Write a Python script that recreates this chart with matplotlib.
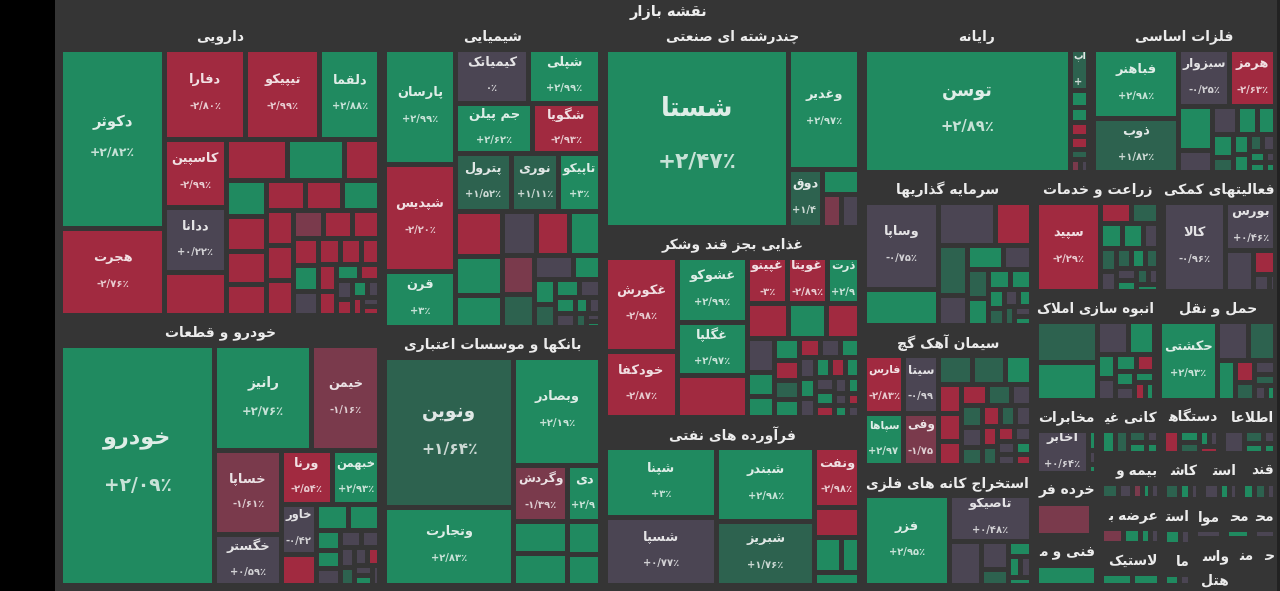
import matplotlib
matplotlib.use("Agg")
import matplotlib.pyplot as plt
from matplotlib.colors import to_rgb
from matplotlib.patches import Rectangle

plt.rcParams["font.family"] = ["DejaVu Sans"]

# ---------------- data ----------------
# tiles: (symbol, daily change %, relative size inside the sector)
darooei = [("دکوثر", 2.82, 17990), ("هجرت", -2.76, 8760), ("دفارا", -2.80, 7000), ("تیپیکو", -2.99, 6420),
           ("دلقما", 2.88, 5190), ("کاسپین", -2.99, 4080), ("ددانا", 0.22, 3810), ("", -2.5, 2570),
           ("", -2.5, 2440), ("", 2.5, 2240), ("", -2.5, 1400), ("", 2.5, 1400), ("", -2.5, 1360),
           ("", -2.5, 1280), ("", -2.5, 1220), ("", -2.5, 1150), ("", -2.5, 1100), ("", 2.5, 1100),
           ("", -2.5, 900), ("", -2.5, 900), ("", -2.5, 900), ("", -1.2, 800), ("", -2.5, 760),
           ("", -2.5, 720), ("", -2.5, 680), ("", 2.5, 640), ("", 0.3, 600), ("", -2.5, 560),
           ("", -2.5, 520), ("", -2.5, 480), ("", -2.5, 440), ("", -2.5, 400), ("", 2.5, 360),
           ("", -2.5, 320), ("", 0.3, 290), ("", -2.5, 260), ("", 2.5, 230), ("", 0.3, 200),
           ("", -2.5, 180), ("", 0.3, 160), ("", -2.5, 140)]
khodro = [("خودرو", 2.09, 35750), ("رانیز", 2.76, 9880), ("خیمن", -1.16, 6930), ("خساپا", -1.61, 5450),
          ("خگستر", 0.59, 3300), ("ورنا", -2.54, 2620), ("خبهمن", 2.93, 2490), ("خاور", -0.42, 1650),
          ("", -2.5, 1050), ("", 2.5, 810), ("", 2.5, 800), ("", 2.5, 450), ("", 2.5, 420),
          ("", 0.3, 380), ("", 0.3, 350), ("", 0.3, 300), ("", 0.3, 280), ("", 1.5, 250),
          ("", 0.3, 220), ("", -2.5, 200), ("", 0.3, 180), ("", 2.5, 160), ("", 0.3, 150)]
shimi = [("پارسان", 2.99, 7775), ("شپدیس", -2.20, 7160), ("قرن", 3, 3780), ("کیمیاتک", 0, 3760),
         ("شپلی", 2.99, 3720), ("جم پیلن", 2.62, 3700), ("شگویا", -2.93, 3200), ("پترول", 1.52, 3080),
         ("نوری", 1.11, 2630), ("تاپیکو", 3, 2290), ("", -2.5, 2045), ("", 2.5, 1740), ("", 2.5, 1460),
         ("", 0.3, 1410), ("", -2.5, 1410), ("", 2.5, 1280), ("", -1.2, 1200), ("", 1.5, 1000),
         ("", 0.3, 900), ("", 2.5, 600), ("", 2.5, 500), ("", 1.5, 450), ("", 2.5, 400), ("", 0.3, 350),
         ("", 2.5, 300), ("", 0.3, 250), ("", 2.5, 200), ("", 0.3, 180), ("", 1.5, 150), ("", 0.3, 100),
         ("", 2.5, 80)]
banks = [("ونوین", 1.64, 18650), ("وتجارت", 2.83, 9700), ("وبصادر", 2.19, 8950), ("وگردش", -1.39, 2890),
         ("دی", 2.99, 1730), ("", 2.5, 1680), ("", 2.5, 1650), ("", 2.5, 1050), ("", 2.5, 950)]
chand = [("شستا", 2.47, 31050), ("وغدیر", 2.97, 8100), ("دوق", 1.44, 1890), ("", 2.5, 860),
         ("", -1.5, 590), ("", 0.3, 580)]
ghaza = [("غکورش", -2.98, 6520), ("خودکفا", -2.87, 4550), ("غشوکو", 2.99, 4300), ("غگلپا", 2.97, 3550),
         ("", -2.5, 2800), ("غپینو", -3, 1750), ("غویتا", -2.89, 1730), ("ذرت", 2.97, 1400),
         ("", -2.5, 1390), ("", 2.5, 1250), ("", -2.5, 1100), ("", 0.3, 900), ("", 2.5, 620),
         ("", 2.5, 560), ("", 2.5, 520), ("", -2.5, 480), ("", 1.5, 450), ("", 2.5, 420), ("", -2.5, 400),
         ("", 0.3, 380), ("", 2.5, 350), ("", 0.3, 320), ("", 2.5, 300), ("", 0.3, 300), ("", 2.5, 280),
         ("", -2.5, 280), ("", 2.5, 260), ("", 0.3, 260), ("", 2.5, 240), ("", -2.5, 220), ("", 0.3, 200),
         ("", 2.5, 180), ("", 0.3, 160), ("", 2.5, 150), ("", -2.5, 140), ("", 0.3, 130)]
naft = [("شپنا", 3, 7410), ("شسپا", 0.77, 7300), ("شبندر", 2.98, 6880), ("شبریز", 1.76, 6020),
        ("ونفت", -2.98, 2560), ("", -2.5, 1290), ("", 2.5, 890), ("", 2.5, 570), ("", 2.5, 570)]
rayaneh = [("توسن", 2.89, 24130), ("آپ", 1.35, 700), ("", 2.5, 280), ("", 2.5, 260), ("", -2.5, 240),
           ("", -2.5, 220), ("", 1.5, 160), ("", -1.5, 120), ("", 0.3, 100)]
felezat = [("فباهنر", 2.98, 5550), ("ذوب", 1.82, 4300), ("سبزوار", -0.25, 2720), ("هرمز", -2.63, 2470),
           ("", 2.5, 1400), ("", 0.3, 700), ("", 0.3, 650), ("", 2.5, 520), ("", 2.5, 480), ("", 2.5, 450),
           ("", 1.5, 300), ("", 2.5, 280), ("", 2.5, 260), ("", 1.5, 220), ("", 0.3, 200), ("", 2.5, 180),
           ("", 2.5, 150), ("", 0.3, 100), ("", 2.5, 90)]
sarmaye = [("وساپا", -0.75, 6040), ("", 2.5, 2470), ("", 0.3, 2300), ("", -2.5, 1450), ("", 1.5, 1330),
           ("", 0.3, 800), ("", 2.5, 780), ("", 0.3, 620), ("", 1.5, 560), ("", 2.5, 520), ("", 2.5, 400),
           ("", 2.5, 380), ("", 2.5, 300), ("", 1.5, 250), ("", 0.3, 220), ("", 2.5, 200), ("", 1.5, 180),
           ("", 0.3, 160), ("", 2.5, 140)]
siman = [("فارس", -2.83, 2160), ("سپاها", 2.97, 1925), ("سیتا", -0.99, 1900), ("وفی", -1.75, 1700),
         ("", 1.5, 910), ("", 1.5, 900), ("", 2.5, 700), ("", -2.5, 620), ("", -2.5, 600), ("", -2.5, 520),
         ("", -2.5, 500), ("", 1.5, 480), ("", 0.3, 400), ("", 1.5, 400), ("", 0.3, 380), ("", 1.5, 350),
         ("", -2.5, 350), ("", 1.5, 300), ("", 0.3, 300), ("", -2.5, 280), ("", 1.5, 260), ("", -2.5, 240),
         ("", 0.3, 240), ("", 0.3, 220), ("", 0.3, 200), ("", 2.5, 180), ("", -2.5, 160)]
estekhraj = [("فزر", 2.95, 7260), ("تاصیکو", 0.48, 3540), ("", 0.3, 1350), ("", 0.3, 720), ("", 1.5, 420),
             ("", 2.5, 330), ("", 2.5, 250), ("", 0.3, 220), ("", 2.5, 170)]
zeraat = [("سپید", -2.29, 5375), ("", -2.5, 615), ("", 1.5, 545), ("", 2.5, 520), ("", 2.5, 480),
          ("", 0.3, 360), ("", 1.5, 350), ("", 0.3, 300), ("", 1.5, 280), ("", 2.5, 260), ("", 1.5, 240),
          ("", 0.3, 220), ("", 2.5, 200), ("", 1.5, 180), ("", 0.3, 160), ("", 2.5, 150)]
komaki = [("کالا", -0.96, 5120), ("بورس", 0.46, 2210), ("", 0.3, 1045), ("", -2.5, 480), ("", 0.3, 250),
          ("", 0.3, 100)]
anbooh = [("", 1.5, 2260), ("", 2.5, 2140), ("", 0.3, 915), ("", 2.5, 780), ("", 2.5, 400), ("", 0.3, 350),
          ("", 2.5, 330), ("", -2.5, 300), ("", 2.5, 260), ("", 0.3, 230), ("", 2.5, 200), ("", -2.5, 170),
          ("", 2.5, 150)]
haml = [("حکشتی", 2.93, 3960), ("", 0.3, 1070), ("", 1.5, 940), ("", 2.5, 650), ("", -2.5, 350),
        ("", 1.5, 300), ("", 0.3, 250), ("", 1.5, 200), ("", 0.3, 150), ("", 2.5, 115)]
mokhaberat = [("اخابر", 0.64, 2230), ("", 2.5, 170), ("", 0.3, 120), ("", 2.5, 80)]
khordeh = [("", -1.5, 1750), ("", 0.3, 170)]
fani = [("", 2.5, 1080)]
kani = [("", 2.5, 330), ("", 1.5, 300), ("", 1.5, 250), ("", 2.5, 200), ("", 0.3, 150), ("", 2.5, 120)]
dastgah = [("", -2.5, 380), ("", 2.5, 250), ("", 1.5, 220), ("", 2.5, 180), ("", 0.3, 150), ("", -2.5, 130)]
etelaat = [("", 0.3, 400), ("", 1.5, 200), ("", 2.5, 150), ("", 0.3, 130), ("", 2.5, 100)]
bimeh = [("", 1.5, 250), ("", 0.3, 200), ("", -1.5, 150), ("", 2.5, 130), ("", 0.3, 125)]
arzeh = [("", -1.5, 330), ("", 2.5, 250), ("", 2.5, 150), ("", 0.3, 130)]
lastik = [("", 2.5, 300), ("", 2.5, 270)]
kashi = [("", 1.5, 200), ("", 2.5, 150), ("", 0.3, 115)]
naftgaz = [("", 0.3, 250), ("", 2.5, 150), ("", 0.3, 125)]
ghand = [("", 2.5, 200), ("", 1.5, 175), ("", 0.3, 150)]
zoghal = [("", 2.5, 150), ("", 0.3, 100)]
mashin = [("", 2.5, 140), ("", 0.3, 100)]
mavad = [("", 0.3, 130)]
felezi = [("", 2.5, 120)]
choobi = [("", 0.3, 100)]
vaseteh = [("", 2.5, 100)]
hotel = [("", 0.3, 90)]
mansoojat = [("", -1.5, 90)]
abi = [("", 2.5, 60)]
chap = [("", 0.3, 50)]

sector_names = ["دارویی", "خودرو و قطعات", "شیمیایی", "بانکها و موسسات اعتباری", "چندرشته ای صنعتی",
                "غذایی بجز قند وشکر", "فرآورده های نفتی", "رایانه", "فلزات اساسی", "سرمایه گذاریها",
                "سیمان آهک گچ", "استخراج کانه های فلزی", "زراعت و خدمات", "فعالیتهای کمکی",
                "انبوه سازی املاک", "حمل و نقل", "مخابرات", "خرده فروشی", "فنی و مهندسی", "کانی غیر فلزی",
                "دستگاههای برقی", "اطلاعات و ارتباطات", "بیمه و صندوق بازنشستگی", "عرضه برق، گاز، بخار",
                "لاستیک و پلاستیک", "کاشی و سرامیک", "استخراج نفت گاز", "قند و شکر", "استخراج زغال سنگ",
                "ماشین آلات و تجهیزات", "مواد و محصولات دارویی", "محصولات فلزی", "محصولات چوبی",
                "واسطه گریهای مالی", "هتل و رستوران", "منسوجات", "حمل و نقل آبی", "انتشار و چاپ"]
sector_sizes = [959, 875, 678, 568, 539, 492, 435, 350, 286, 263, 241, 206, 152, 139, 134, 131,
                48.1, 40.3, 33.0, 32.5, 32.0, 30.0, 28.5, 28.0, 26.0, 18.5, 18.0, 17.8, 14.0, 13.0,
                12.0, 11.0, 10.0, 9.5, 9.0, 8.0, 7.0, 6.0]
sector_tiles = [darooei, khodro, shimi, banks, chand, ghaza, naft, rayaneh, felezat, sarmaye, siman,
                estekhraj, zeraat, komaki, anbooh, haml, mokhaberat, khordeh, fani, kani, dastgah, etelaat,
                bimeh, arzeh, lastik, kashi, naftgaz, ghand, zoghal, mashin, mavad, felezi, choobi, vaseteh,
                hotel, mansoojat, abi, chap]

title = "نقشه بازار"

# ---------------- style ----------------
W, H = 1280, 591
BG = "#353535"
GREEN, GREEN_MID = "#208a60", "#2d624f"
GRAY = "#4b4553"
RED_MID, RED = "#7a3a4c", "#a12a40"
GAP = 5

# persian letters -> (isolated, final, initial, medial) presentation forms
FORMS = {
    "ا": (0xFE8D, 0xFE8E, None, None), "آ": (0xFE81, 0xFE82, None, None),
    "ب": (0xFE8F, 0xFE90, 0xFE91, 0xFE92), "پ": (0xFB56, 0xFB57, 0xFB58, 0xFB59),
    "ت": (0xFE95, 0xFE96, 0xFE97, 0xFE98), "ث": (0xFE99, 0xFE9A, 0xFE9B, 0xFE9C),
    "ج": (0xFE9D, 0xFE9E, 0xFE9F, 0xFEA0), "چ": (0xFB7A, 0xFB7B, 0xFB7C, 0xFB7D),
    "ح": (0xFEA1, 0xFEA2, 0xFEA3, 0xFEA4), "خ": (0xFEA5, 0xFEA6, 0xFEA7, 0xFEA8),
    "د": (0xFEA9, 0xFEAA, None, None), "ذ": (0xFEAB, 0xFEAC, None, None),
    "ر": (0xFEAD, 0xFEAE, None, None), "ز": (0xFEAF, 0xFEB0, None, None),
    "ژ": (0xFB8A, 0xFB8B, None, None),
    "س": (0xFEB1, 0xFEB2, 0xFEB3, 0xFEB4), "ش": (0xFEB5, 0xFEB6, 0xFEB7, 0xFEB8),
    "ص": (0xFEB9, 0xFEBA, 0xFEBB, 0xFEBC), "ض": (0xFEBD, 0xFEBE, 0xFEBF, 0xFEC0),
    "ط": (0xFEC1, 0xFEC2, 0xFEC3, 0xFEC4), "ظ": (0xFEC5, 0xFEC6, 0xFEC7, 0xFEC8),
    "ع": (0xFEC9, 0xFECA, 0xFECB, 0xFECC), "غ": (0xFECD, 0xFECE, 0xFECF, 0xFED0),
    "ف": (0xFED1, 0xFED2, 0xFED3, 0xFED4), "ق": (0xFED5, 0xFED6, 0xFED7, 0xFED8),
    "ک": (0xFB8E, 0xFB8F, 0xFB90, 0xFB91), "گ": (0xFB92, 0xFB93, 0xFB94, 0xFB95),
    "ل": (0xFEDD, 0xFEDE, 0xFEDF, 0xFEE0), "م": (0xFEE1, 0xFEE2, 0xFEE3, 0xFEE4),
    "ن": (0xFEE5, 0xFEE6, 0xFEE7, 0xFEE8), "و": (0xFEED, 0xFEEE, None, None),
    "ه": (0xFEE9, 0xFEEA, 0xFEEB, 0xFEEC), "ی": (0xFBFC, 0xFBFD, 0xFBFE, 0xFBFF),
}
LAM_ALEF = {"ا": (0xFEFB, 0xFEFC), "آ": (0xFEF5, 0xFEF6)}


def shape(text):
    # join letters and put them in visual (left to right) order
    out = []
    i = 0
    while i < len(text):
        ch = text[i]
        if ch not in FORMS:
            out.append(ch)
            i += 1
            continue
        prev = text[i - 1] if i > 0 else ""
        jp = prev in FORMS and FORMS[prev][2] is not None
        nxt = text[i + 1] if i + 1 < len(text) else ""
        if ch == "ل" and nxt in LAM_ALEF:
            out.append(chr(LAM_ALEF[nxt][1 if jp else 0]))
            i += 2
            continue
        jn = FORMS[ch][2] is not None and nxt in FORMS
        iso, fin, ini, med = FORMS[ch]
        code = med if (jp and jn) else fin if jp else ini if jn else iso
        out.append(chr(code))
        i += 1
    return "".join(reversed(out))


def fa_pct(v):
    body = str(abs(int(v))) if v == int(v) else f"{abs(v):.2f}"
    body = body.translate(str.maketrans("0123456789.", "۰۱۲۳۴۵۶۷۸۹/"))
    sign = "+" if v > 0 else "-" if v < 0 else ""
    return sign + body + "٪"


def tile_color(c):
    if c >= 2:
        return GREEN
    if c >= 1:
        return GREEN_MID
    if c > -1:
        return GRAY
    if c > -2:
        return RED_MID
    return RED


def lighten(c, a):
    r, g, b = to_rgb(c)
    return (r + (1 - r) * a, g + (1 - g) * a, b + (1 - b) * a)


def squarify(values, x0, y0, x1, y1):
    # squarified treemap, first strip of every node goes down the left side
    order = sorted(range(len(values)), key=lambda k: -values[k])
    boxes = [None] * len(values)
    total = float(sum(values))
    i0, first = 0, True
    while i0 < len(order):
        dx, dy = x1 - x0, y1 - y0
        if dx <= 0 or dy <= 0 or total <= 0:
            break
        column = first or dx >= dy
        side = dy if column else dx
        scale = dx * dy / total

        def worst(s, lo, hi):
            t = s * scale / side
            return max(t * t / (lo * scale), hi * scale / (t * t))

        s = lo = hi = values[order[i0]]
        best = worst(s, lo, hi)
        i1 = i0 + 1
        while i1 < len(order):
            v = values[order[i1]]
            r = worst(s + v, min(lo, v), max(hi, v))
            if r > best:
                break
            s += v
            lo, hi, best = min(lo, v), max(hi, v), r
            i1 += 1
        if column:
            xm, yy = x0 + dx * s / total, y0
            for k in order[i0:i1]:
                h = dy * values[k] / s
                boxes[k] = (x0, yy, xm, yy + h)
                yy += h
            x0 = xm
        else:
            ym, xx = y0 + dy * s / total, x0
            for k in order[i0:i1]:
                w = dx * values[k] / s
                boxes[k] = (xx, y0, xx + w, ym)
                xx += w
            y0 = ym
        total -= s
        i0, first = i1, False
    return boxes


fig = plt.figure(figsize=(W / 100, H / 100), dpi=100, facecolor="black")
ax = fig.add_axes([0, 0, 1, 1])
ax.set_xlim(0, W)
ax.set_ylim(H, 0)
ax.axis("off")
ax.add_patch(Rectangle((55, 0), 1277 - 55, H, facecolor=BG, edgecolor="none", zorder=0))
ax.add_patch(Rectangle((1277, 0), W - 1277, H, facecolor="#222222", edgecolor="none", zorder=0))
renderer = fig.canvas.get_renderer()


def width_of(t):
    return t.get_window_extent(renderer).width


def sector_title(x0, x1, y, s):
    # centred; a title that is too long keeps its start (right side) like the app does
    size = 10
    t = ax.text((x0 + x1) / 2, y, s, ha="center", va="center", fontsize=size,
                color="#ececec", fontweight="bold", zorder=5)
    avail = x1 - x0 - 6
    while width_of(t) > avail and size > 9:
        size -= 0.25
        t.set_fontsize(size)
    if width_of(t) > avail:
        t.set_fontsize(10)
        t.set_ha("right")
        t.set_x(x1 - 4)
        while len(s) > 1 and width_of(t) > avail:
            s = s[1:]
            t.set_text(s)
        t.set_text(s.strip())


def tile_name(x0, x1, y, s, size, color, clip):
    t = ax.text((x0 + x1) / 2, y, s, ha="center", va="center", fontsize=size,
                color=color, fontweight="bold", zorder=5, clip_on=True)
    t.set_clip_path(clip)
    avail = x1 - x0 - 2
    while width_of(t) > avail and size > 7:
        size -= 0.5
        t.set_fontsize(size)


def tile_pct(x0, x1, y, s, size, color, clip):
    t = ax.text((x0 + x1) / 2, y, s, ha="center", va="center", fontsize=size,
                color=color, fontweight="bold", zorder=5, clip_on=True)
    t.set_clip_path(clip)
    avail = x1 - x0 - 2
    if width_of(t) > avail:
        t.set_ha("left")
        t.set_x(x0 + 1)
        while len(s) > 1 and width_of(t) > avail:
            s = s[:-1]
            t.set_text(s)


ax.text((58 + 1278) / 2, 12, shape(title), ha="center", va="center", fontsize=10.5,
        color="#eeeeee", fontweight="bold")

cells = squarify(sector_sizes, 58, 22, 1278, 588)
for name, cell, tiles in zip(sector_names, cells, sector_tiles):
    x0, y0, x1, y1 = cell
    if y1 - y0 < 22:
        continue
    sector_title(x0, x1, y0 + 15, shape(name))
    if y1 - y0 < 32:
        continue
    boxes = squarify([t[2] for t in tiles], x0 + 2.5, y0 + 27.5, x1 - 2.5, y1 - 2.5)
    for (sym, chg, _), box in zip(tiles, boxes):
        if box is None:
            continue
        a, b, c, d = box
        w, h = c - a - GAP, d - b - GAP
        if w <= 0.6 or h <= 0.6:
            continue
        col = tile_color(chg)
        rect = Rectangle((a + GAP / 2, b + GAP / 2), w, h, facecolor=col, edgecolor="none", zorder=2)
        ax.add_patch(rect)
        if not sym:
            continue
        m = min(w, h)
        name_px = min(max(0.15 * m, 13), 27)
        pct_px = max(0.125 * m, 10)
        cy = b + GAP / 2 + h / 2
        tile_name(a + GAP / 2, a + GAP / 2 + w, cy - 1.12 * name_px, shape(sym), name_px * 0.72,
                  lighten(col, 0.85), rect)
        tile_pct(a + GAP / 2, a + GAP / 2 + w, cy + 0.9 * name_px, fa_pct(chg), pct_px * 0.72,
                 lighten(col, 0.75), rect)

fig.savefig("out.png", dpi=100, facecolor=fig.get_facecolor())
